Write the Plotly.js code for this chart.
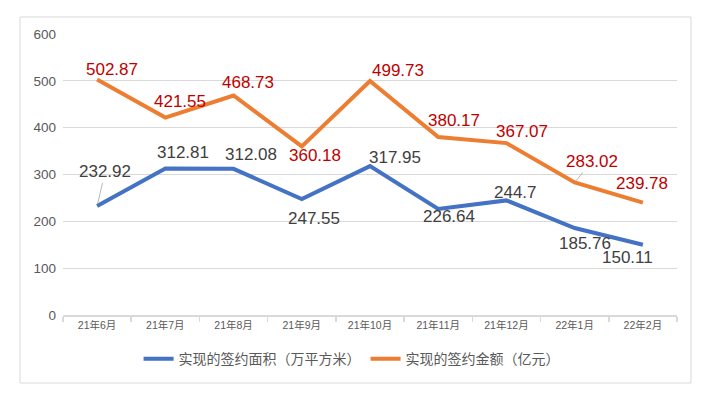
<!DOCTYPE html>
<html><head><meta charset="utf-8">
<script src="https://cdn.plot.ly/plotly-3.0.1.min.js"></script>
<style>html,body{margin:0;padding:0;background:#fff;}#chart{width:719px;height:398px;}</style>
</head><body><div id="chart"></div>
<script>
const categories = ["21年6月","21年7月","21年8月","21年9月","21年10月","21年11月","21年12月","22年1月","22年2月"];
const areaValues = [232.92, 312.81, 312.08, 247.55, 317.95, 226.64, 244.7, 185.76, 150.11];
const amountValues = [502.87, 421.55, 468.73, 360.18, 499.73, 380.17, 367.07, 283.02, 239.78];
const areaName = "实现的签约面积（万平方米）";
const amountName = "实现的签约金额（亿元）";
const yTicks = [0, 100, 200, 300, 400, 500, 600];

// label offsets in pixels (layout only)
const amountShift = [[15,10],[15,16],[14,13],[13,-9],[28,10],[16,16],[16,12],[17,21],[-1,19]];
const areaShift = [[8,34],[18,16],[17,14],[12,-19],[25,9],[11,-8],[9,8],[10,-15],[-15,-13]];
const leaderArea = [true,false,false,false,false,false,false,false,false];
const leaderAmount = [false,false,false,false,false,false,false,true,false];

const FONT = "Liberation Sans, Arial, Noto Sans CJK SC, sans-serif";

const traces = [
  {x: categories, y: areaValues, name: areaName, type: "scatter", mode: "lines",
   line: {color: "#4472C4", width: 4}},
  {x: categories, y: amountValues, name: amountName, type: "scatter", mode: "lines",
   line: {color: "#ED7D31", width: 4}}
];

const annotations = [];
function addLabels(vals, shifts, leaders, color) {
  vals.forEach((v, i) => {
    const [dx, dy] = shifts[i];
    if (leaders[i]) {
      annotations.push({x: categories[i], y: v, xref: "x", yref: "y", text: String(v),
        showarrow: true, arrowhead: 0, arrowwidth: 0.8, arrowcolor: "#a6a6a6",
        ax: dx, ay: -dy, standoff: 2, startstandoff: 0,
        font: {family: FONT, size: 17, color: color}, xanchor: "center", yanchor: "middle"});
    } else {
      annotations.push({x: categories[i], y: v, xref: "x", yref: "y", text: String(v),
        showarrow: false, xshift: dx, yshift: dy,
        font: {family: FONT, size: 17, color: color}, xanchor: "center", yanchor: "middle"});
    }
  });
}
addLabels(areaValues, areaShift, leaderArea, "#404040");
addLabels(amountValues, amountShift, leaderAmount, "#C00000");

const layout = {
  width: 719, height: 398,
  margin: {l: 63, r: 42, t: 34, b: 83},
  paper_bgcolor: "#ffffff", plot_bgcolor: "#ffffff",
  font: {family: FONT, color: "#595959"},
  showlegend: true,
  legend: {orientation: "h", x: 0.47, xanchor: "center", y: -0.157, yanchor: "middle",
    font: {family: FONT, size: 14, color: "#595959"}, itemwidth: 30, tracegroupgap: 0},
  xaxis: {type: "category", range: [-0.5, 8.5], showgrid: false, showline: true,
    linecolor: "#d9d9d9", linewidth: 1.5, ticks: "outside", tickson: "boundaries",
    ticklen: 5, tickcolor: "#d9d9d9", tickwidth: 1.5,
    tickfont: {family: FONT, size: 10.5, color: "#595959"}, zeroline: false, fixedrange: true},
  yaxis: {range: [0, 600], tickvals: yTicks, showgrid: true, gridcolor: "#d9d9d9", gridwidth: 1,
    showline: false, zeroline: false, ticks: "", ticklabelstandoff: 6,
    tickfont: {family: FONT, size: 13.5, color: "#595959"}, fixedrange: true},
  annotations: annotations,
  shapes: [{type: "rect", xref: "paper", yref: "paper", x0: -0.07, x1: 1.0228, y0: -0.242, y1: 1.0605,
    line: {color: "#d9d9d9", width: 1}, fillcolor: "rgba(0,0,0,0)", layer: "below"}]
};

Plotly.newPlot("chart", traces, layout, {displayModeBar: false, staticPlot: true});
</script>
</body></html>
